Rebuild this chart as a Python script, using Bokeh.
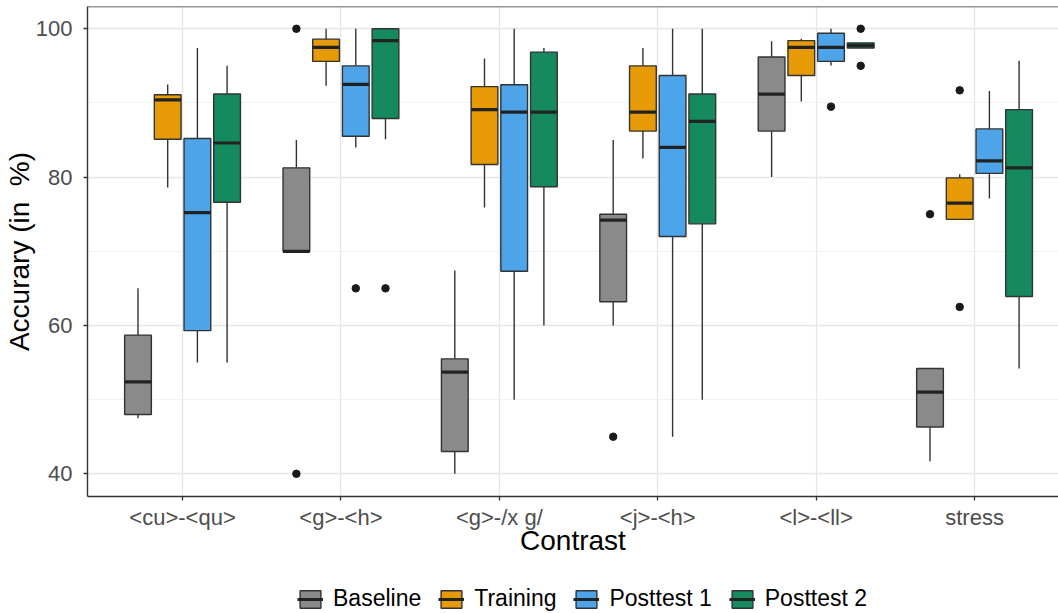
from bokeh.plotting import figure
from bokeh.layouts import column
from bokeh.models import Range1d, FixedTicker, Legend, LegendItem, Span
from bokeh.embed import file_html
from bokeh.resources import INLINE

# ---------------- data ----------------
categories = ["<cu>-<qu>", "<g>-<h>", "<g>-/x g/", "<j>-<h>", "<l>-<ll>", "stress"]
groups = ["Baseline", "Training", "Posttest 1", "Posttest 2"]
colors = ["#8a8a8a", "#E69A06", "#4DA4E8", "#158A5F"]

# five-number summaries per category (lower whisker, Q1, median, Q3, upper whisker)
baseline_lo  = [47.5, 70.0, 40.0, 60.0, 80.0, 41.7]
baseline_q1  = [48.0, 70.0, 43.0, 63.2, 86.2, 46.3]
baseline_med = [52.4, 70.0, 53.7, 74.2, 91.2, 51.0]
baseline_q3  = [58.7, 81.25, 55.5, 75.0, 96.2, 54.2]
baseline_hi  = [65.0, 85.0, 67.4, 85.0, 98.3, 54.2]

training_lo  = [78.6, 92.3, 75.9, 82.5, 90.2, 74.3]
training_q1  = [85.1, 95.6, 81.7, 86.2, 93.7, 74.3]
training_med = [90.4, 97.5, 89.1, 88.75, 97.5, 76.5]
training_q3  = [91.1, 98.6, 92.2, 95.0, 98.4, 79.9]
training_hi  = [92.5, 100.0, 96.0, 97.4, 98.65, 80.4]

post1_lo  = [55.0, 84.0, 50.0, 45.0, 95.05, 77.1]
post1_q1  = [59.3, 85.5, 67.3, 72.0, 95.6, 80.5]
post1_med = [75.2, 92.5, 88.75, 84.0, 97.5, 82.2]
post1_q3  = [85.2, 95.0, 92.45, 93.7, 99.4, 86.5]
post1_hi  = [97.4, 100.0, 100.0, 100.0, 100.0, 91.6]

post2_lo  = [55.0, 85.1, 60.0, 50.0, 97.4, 54.2]
post2_q1  = [76.6, 87.9, 78.7, 73.7, 97.4, 63.9]
post2_med = [84.6, 98.4, 88.75, 87.5, 97.75, 81.25]
post2_q3  = [91.2, 100.0, 96.85, 91.2, 98.1, 89.1]
post2_hi  = [95.0, 100.0, 97.4, 100.0, 98.1, 95.7]

# outliers: category index (1-based) and value
baseline_out_cat = [2, 2, 4, 6]
baseline_out_val = [100.0, 40.0, 45.0, 75.0]
training_out_cat = [6, 6]
training_out_val = [91.7, 62.5]
post1_out_cat = [2, 5]
post1_out_val = [65.0, 89.5]
post2_out_cat = [2, 5, 5]
post2_out_val = [65.0, 100.0, 95.0]

stats = [
    (baseline_lo, baseline_q1, baseline_med, baseline_q3, baseline_hi, baseline_out_cat, baseline_out_val),
    (training_lo, training_q1, training_med, training_q3, training_hi, training_out_cat, training_out_val),
    (post1_lo, post1_q1, post1_med, post1_q3, post1_hi, post1_out_cat, post1_out_val),
    (post2_lo, post2_q1, post2_med, post2_q3, post2_hi, post2_out_cat, post2_out_val),
]

# ---------------- layout ----------------
offsets = [-0.28125, -0.09375, 0.09375, 0.28125]
box_w = 0.16875
y_start, y_end = 36.94, 103.0
edge = "#333333"
nan = float("nan")

p = figure(width=1058, height=578, output_backend="svg", toolbar_location=None,
           x_range=Range1d(0.40, 6.53), y_range=Range1d(y_start, y_end),
           min_border_left=87, min_border_right=0, min_border_top=6, min_border_bottom=82)
p.outline_line_color = None
p.background_fill_color = "white"
p.border_fill_color = "white"

# separate small figure holding the legend (below the main plot)
lf = figure(width=1058, height=35, output_backend="svg", toolbar_location=None,
            x_range=Range1d(0, 1), y_range=Range1d(0, 1),
            x_axis_location=None, y_axis_location=None,
            min_border_left=87, min_border_right=0, min_border_top=0, min_border_bottom=0)
lf.outline_line_color = None
lf.border_fill_color = "white"
lf.background_fill_color = "white"
lf.xgrid.visible = False
lf.ygrid.visible = False

legend_items = []
for gi, (g, col, st) in enumerate(zip(groups, colors, stats)):
    lo, q1, med, q3, hi, oc, ov = st
    xs = [i + 1 + offsets[gi] for i in range(len(categories))]
    p.segment(x0=xs, y0=q3, x1=xs, y1=hi, line_color=edge, line_width=1.4)
    p.segment(x0=xs, y0=q1, x1=xs, y1=lo, line_color=edge, line_width=1.4)
    p.vbar(x=xs, bottom=q1, top=q3, width=box_w, fill_color=col,
           line_color=edge, line_width=1.4)
    p.segment(x0=[x - box_w / 2 for x in xs], y0=med,
              x1=[x + box_w / 2 for x in xs], y1=med,
              line_color="#222222", line_width=3.2)
    p.scatter(x=[c + offsets[gi] for c in oc], y=ov, size=7.5,
              fill_color="#1a1a1a", line_color="#1a1a1a")
    # legend key glyphs: empty (NaN) data, only their styles are used by the legend
    bx = lf.vbar(x=[nan], bottom=[nan], top=[nan], width=0.1, fill_color=col,
                 line_color=edge, line_width=1.4)
    md = lf.segment(x0=[nan], y0=[nan], x1=[nan], y1=[nan], line_color="#222222", line_width=3)
    legend_items.append(LegendItem(label=g, renderers=[bx, md]))

# panel border top
p.add_layout(Span(location=y_end, dimension="width", line_color=edge, line_width=1.4))

# axes
p.xaxis.ticker = FixedTicker(ticks=list(range(1, len(categories) + 1)))
p.xaxis.major_label_overrides = {i + 1: c for i, c in enumerate(categories)}
p.yaxis.ticker = FixedTicker(ticks=[40, 60, 80, 100], minor_ticks=[50, 70, 90])

for ax in (p.xaxis, p.yaxis):
    ax.axis_line_color = edge
    ax.axis_line_width = 1.4
    ax.major_tick_line_color = edge
    ax.major_tick_line_width = 1.3
    ax.major_tick_out = 4
    ax.major_tick_in = 0
    ax.minor_tick_out = 0
    ax.minor_tick_in = 0
    ax.major_label_text_font = "Liberation Sans"
    ax.major_label_text_font_size = "22px"
    ax.major_label_text_color = "#4D4D4D"
    ax.axis_label_text_font = "Liberation Sans"
    ax.axis_label_text_font_size = "28px"
    ax.axis_label_text_font_style = "normal"
    ax.axis_label_text_color = "black"

p.xaxis.axis_label = "Contrast"
p.yaxis.axis_label = "Accurary (in\u00a0 %)"
p.xaxis.major_label_standoff = 4
p.yaxis.major_label_standoff = 11
p.xaxis.axis_label_standoff = -8
p.yaxis.axis_label_standoff = -2

p.xgrid.grid_line_color = "#E6E6E6"
p.xgrid.grid_line_width = 1.3
p.ygrid.grid_line_color = "#E6E6E6"
p.ygrid.grid_line_width = 1.3
p.ygrid.minor_grid_line_color = "#EFEFEF"
p.ygrid.minor_grid_line_width = 0.8

legend = Legend(items=legend_items, orientation="horizontal", location=(210, 1),
                glyph_width=26, glyph_height=22, label_standoff=10, spacing=17,
                padding=0, margin=0, border_line_color=None, background_fill_alpha=0,
                label_text_font="Liberation Sans", label_text_font_size="23px",
                label_text_color="black")
lf.add_layout(legend)

layout = column(p, lf, spacing=0)
open("out.html", "w").write(file_html(layout, INLINE))
